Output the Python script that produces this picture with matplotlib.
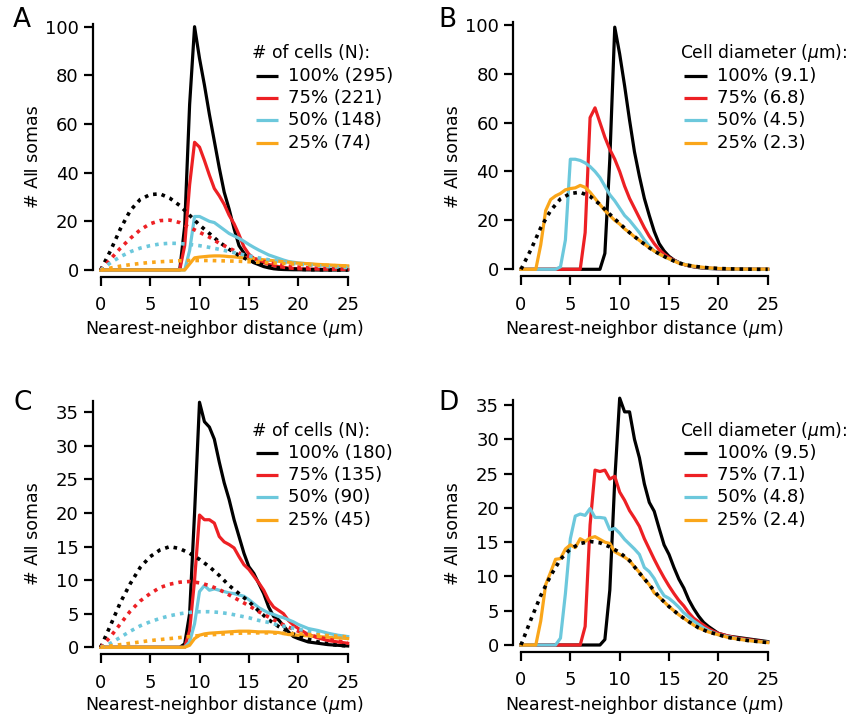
import matplotlib
matplotlib.use("Agg")
import matplotlib.pyplot as plt
from matplotlib.lines import Line2D

W, H = 851, 716

# sample positions (um) for the measured curves
x_meas = [0, 0.5, 1, 1.5, 2, 2.5, 3, 3.5, 4, 4.5, 5, 5.5, 6, 6.5, 7, 7.5, 8, 8.5, 9, 9.5,
          10, 10.5, 11, 11.5, 12, 12.5, 13, 13.5, 14, 14.5, 15, 15.5, 16, 16.5, 17, 17.5,
          18, 18.5, 19, 19.5, 20, 21, 22, 23, 24, 25]
# sample positions (um) for the random-placement expectation
x_rand = [0, 1, 2, 3, 4, 5, 6, 7, 8, 9, 10, 11, 12, 13, 14, 15, 16, 17, 18, 19, 20, 21, 22, 23, 24, 25]

pct_labels = ["100%", "75%", "50%", "25%"]
colors = ["black", "#ED2024", "#6CC8DC", "#FAA61A"]

# ---- panel A: # of cells
a_counts = [295, 221, 148, 74]
a_meas = [
    [0] * 16 + [0, 18, 68, 100, 87, 76, 64, 53, 42, 32, 25, 17, 10, 7, 4.5, 3, 2.2, 1.4, 0.9,
                0.5, 0.3, 0.2, 0.15, 0.1, 0.1] + [0.05, 0, 0, 0, 0],
    [0] * 16 + [0, 10, 35, 52.5, 50.5, 45, 39, 33.5, 30.5, 27, 22.5, 19, 14.5, 9.5, 6.5, 4.8,
                3.8, 3.0, 2.3, 1.8, 1.4, 1.1, 0.8, 0.65, 0.5] + [0.4, 0.35, 0.3, 0.3, 0.3],
    [0] * 17 + [0, 8, 22, 22, 21, 20, 19.5, 18, 16.5, 15, 14, 13, 11.8, 10.5, 9.3, 8.2, 7.2,
                6.2, 5.5, 4.8, 4.1, 3.5, 3.2, 2.9] + [2.5, 2.1, 1.8, 1.5, 1.4],
    [0] * 17 + [0, 2.5, 5, 5.3, 5.5, 5.7, 5.8, 5.8, 5.7, 5.5, 5.4, 5.2, 5.0, 4.8, 4.6, 4.4,
                4.2, 4.0, 3.8, 3.6, 3.4, 3.2, 3.0, 2.8] + [2.6, 2.3, 2.1, 1.9, 1.7],
]
a_rand = [
    [0, 8, 17, 24.5, 29, 31, 31.3, 29.5, 26.5, 22.5, 18.5, 15, 11.5, 8.5, 6, 4, 2.5, 1.5, 0.9,
     0.5, 0.3, 0.15, 0.1, 0.05, 0, 0],
    [0, 4.5, 9, 13, 16.5, 19, 20.3, 20.5, 19.5, 17.5, 15.5, 13.5, 11, 9, 7, 5.5, 4, 3, 2.2,
     1.6, 1.2, 0.9, 0.7, 0.5, 0.4, 0.3],
    [0, 3, 5.5, 7.5, 9, 10, 10.7, 11, 10.9, 10.5, 10, 9.3, 8.5, 7.6, 6.7, 5.8, 5, 4.2, 3.5,
     2.9, 2.4, 2, 1.7, 1.4, 1.2, 1],
    [0, 0.8, 1.6, 2.2, 2.7, 3.1, 3.4, 3.6, 3.8, 3.9, 3.9, 3.9, 3.8, 3.7, 3.6, 3.4, 3.2, 3.0,
     2.8, 2.6, 2.4, 2.2, 2.0, 1.9, 1.7, 1.6],
]

# ---- panel B: cell diameter
b_diam = [9.1, 6.8, 4.5, 2.3]
b_meas = [
    [0] * 17 + [6.5, 45, 99, 88, 75, 61, 48, 38, 29, 22, 15.5, 10.5, 7.5, 5.3, 3.8, 2.8, 2.0,
                1.4, 1.0, 0.7, 0.5, 0.35, 0.25, 0.2] + [0.1, 0.05, 0, 0, 0],
    [0] * 13 + [15, 62, 66, 60, 54, 49, 45, 40, 34, 29, 25, 21, 17, 13.5, 10.5, 8, 6.2, 4.8,
                3.7, 2.7, 2.0, 1.5, 1.1, 0.8, 0.6, 0.45, 0.35, 0.25] + [0.15, 0.1, 0.05, 0, 0],
    [0] * 8 + [1, 12, 45, 45, 44.5, 43.5, 42, 40, 37.5, 34, 30.5, 28, 25, 22, 20, 17.5, 15, 12,
               9.5, 7.5, 6.3, 5.2, 4.3, 3.5, 2.7, 2.1, 1.6, 1.2, 0.9, 0.65, 0.45, 0.35, 0.25]
    + [0.15, 0.1, 0.05, 0, 0],
    [0] * 4 + [10, 24, 28.5, 30, 31, 32.5, 33, 33.3, 34.3, 33.5, 31.5, 29, 26.5, 24, 22, 20,
               18.5, 16.5, 15, 13.3, 11.8, 10.3, 8.8, 7.5, 6.3, 5.2, 4.3, 3.4, 2.5, 2.0, 1.6,
               1.3, 1.0, 0.8, 0.6, 0.45, 0.35] + [0.2, 0.1, 0.05, 0.05, 0.05],
]
b_rand = [0, 8, 17, 24, 28.8, 31, 31.5, 29.8, 26.5, 22.5, 18.7, 15, 11.8, 8.8, 6.3, 4.3, 2.5,
          1.6, 1.0, 0.6, 0.35, 0.2, 0.1, 0.05, 0, 0]

# ---- panel C: # of cells
c_counts = [180, 135, 90, 45]
c_meas = [
    [0] * 17 + [0.5, 5, 20, 36.5, 33.6, 32.8, 31, 27.6, 24.5, 22, 19, 16.5, 14, 12, 11, 9.5, 8,
                6, 4.6, 4.1, 3.2, 2.3, 1.6, 1.3] + [0.8, 0.6, 0.4, 0.3, 0.2],
    [0] * 18 + [2.5, 10, 19.7, 19, 19, 18.5, 16.5, 15.7, 15.3, 14.8, 13.5, 12.3, 11.6, 10.6, 9.6,
                8.5, 7, 6, 5.5, 5, 4, 3.3, 2.8] + [1.9, 1.4, 1.0, 0.8, 0.6],
    [0] * 18 + [0.8, 3.5, 8.3, 9.2, 8.5, 8.7, 8.5, 8.3, 8.1, 8, 7.8, 7.6, 7.1, 6.5, 5.9, 5.5,
                5.1, 4.9, 4.6, 4.4, 4.1, 3.8, 3.4] + [2.8, 2.5, 2.1, 1.8, 1.6],
    [0] * 18 + [0.3, 1.3, 1.8, 2.0, 2.1, 2.15, 2.2, 2.25, 2.3, 2.35, 2.4, 2.4, 2.4, 2.35, 2.3,
                2.3, 2.3, 2.25, 2.2, 2.05, 1.9, 1.85, 1.8] + [1.7, 1.6, 1.5, 1.4, 1.3],
]
c_rand = [
    [0, 3.3, 6.7, 9.5, 11.9, 13.5, 14.5, 15, 14.7, 14, 13.1, 12, 10.7, 9.2, 8, 6.8, 5.4, 4.1,
     3.1, 2.3, 1.7, 1.2, 0.8, 0.5, 0.3, 0.2],
    [0, 1.6, 3.5, 5.4, 6.9, 8, 8.9, 9.4, 9.7, 9.8, 9.6, 9.2, 8.6, 7.8, 7, 6.2, 5.3, 4.5, 3.7,
     3, 2.4, 1.9, 1.5, 1.2, 0.9, 0.7],
    [0, 0.6, 1.5, 2.4, 3.2, 3.8, 4.3, 4.7, 5, 5.2, 5.3, 5.3, 5.2, 5, 4.7, 4.4, 4, 3.7, 3.3, 3,
     2.7, 2.4, 2.1, 1.9, 1.7, 1.5],
    [0, 0.2, 0.4, 0.6, 0.8, 1, 1.15, 1.3, 1.45, 1.6, 1.75, 1.85, 1.95, 2.05, 2.1, 2.15, 2.15,
     2.15, 2.1, 2.05, 2, 1.9, 1.85, 1.75, 1.65, 1.55],
]

# ---- panel D: cell diameter
d_diam = [9.5, 7.1, 4.8, 2.4]
d_meas = [
    [0] * 17 + [0.8, 8, 24, 36, 34, 34, 30, 27.3, 23.5, 20.8, 19.5, 17, 14.6, 13.2, 11.3, 9.6,
                8.3, 6.6, 5.3, 4.2, 3.3, 2.7, 2.2, 1.7] + [1.3, 1.1, 0.9, 0.7, 0.5],
    [0] * 13 + [2.7, 17.5, 25.5, 25.3, 25.5, 24.2, 24.6, 22.3, 21.1, 19.6, 18.5, 17.3, 15.5, 14,
                12.5, 11.1, 9.8, 8.6, 7.5, 6.5, 5.7, 4.7, 3.9, 3.4, 2.9, 2.4, 2, 1.7]
    + [1.3, 1.0, 0.8, 0.6, 0.4],
    [0] * 8 + [1, 7.5, 15.5, 18.8, 19.1, 18.9, 19.9, 18.6, 18.6, 18.5, 16.8, 17, 16.3, 15.4,
               14.7, 14, 13.2, 11.3, 10.7, 9.7, 8.3, 7.2, 6.8, 6.2, 5.5, 4.7, 4.1, 3.5, 3, 2.5,
               2.1, 1.8, 1.5] + [1.2, 0.9, 0.7, 0.5, 0.4],
    [0] * 4 + [3.5, 8.8, 10.6, 12.5, 12.6, 14, 14.6, 14.2, 15.5, 15.1, 15.6, 15.8, 15.4, 15,
               14.8, 13.6, 13.2, 12.8, 12.3, 11.4, 10.6, 9.6, 8.8, 7.6, 7, 6.3, 5.6, 5, 4.4,
               3.9, 3.4, 2.9, 2.5, 2.2, 1.9, 1.7, 1.5] + [1.1, 0.85, 0.65, 0.5, 0.35],
]
d_rand = [0, 3.7, 7.2, 10.1, 12.5, 14, 14.8, 15.1, 14.9, 14.3, 13.5, 12.3, 10.5, 8.8, 7, 5.6,
          4.4, 3.4, 2.5, 1.9, 1.5, 1.1, 0.85, 0.65, 0.5, 0.35]

plt.rcParams["font.family"] = ["DejaVu Sans"]

LW = 2.3
FS = 13      # ticks and keys
FS_LAB = 12.5
FS_KEYTITLE = 12.3


def fx(px):
    return px / W


def fy(py):
    return 1 - py / H


def style_axes(ax, ymax, yticks):
    ax.set_xlim(0, 25)
    ax.set_ylim(0, ymax)
    ax.set_xticks([0, 5, 10, 15, 20, 25])
    ax.set_yticks(yticks)
    for s in ["top", "right"]:
        ax.spines[s].set_visible(False)
    ax.spines["left"].set_position(("outward", 5.8))
    ax.spines["bottom"].set_position(("outward", 5.0))
    for s in ["left", "bottom"]:
        ax.spines[s].set_linewidth(1.6)
    ax.tick_params(axis="both", direction="out", width=1.6, length=6.5, labelsize=FS)
    ax.tick_params(axis="y", pad=3.5)
    ax.tick_params(axis="x", pad=7.5)
    ax.patch.set_visible(False)


def draw_panel(ax, meas, rand_list, rand_colors):
    for ys, c in zip(meas, colors):
        ax.plot(x_meas, ys, color=c, lw=LW, clip_on=False, solid_joinstyle="round")
    for ys, c in zip(rand_list, rand_colors):
        ax.plot(x_rand, ys, color=c, lw=2.6, linestyle=(0, (1.0, 1.4)),
                dash_capstyle="butt", clip_on=False)


def add_key(fig, title, labels, x_title, y_title, x_h0, x_h1, x_text, y_rows):
    fig.text(fx(x_title), fy(y_title), title, ha="left", va="center", fontsize=FS_KEYTITLE)
    for lab, c, yr in zip(labels, colors, y_rows):
        fig.add_artist(Line2D([fx(x_h0), fx(x_h1)], [fy(yr), fy(yr)],
                              transform=fig.transFigure, color=c, lw=LW,
                              solid_capstyle="butt"))
        fig.text(fx(x_text), fy(yr), lab, ha="left", va="center", fontsize=FS)


fig = plt.figure(figsize=(W / 100, H / 100), dpi=100)

xlab = r"Nearest-neighbor distance ($\mu$m)"
ylab = "# A\u2161 somas"

# panel geometry in pixels: left, x=25 px, y0 px, px per unit, ymax
panels = {
    "A": (100.7, 347.7, 270.0, 2.433, 101),
    "B": (521.0, 767.7, 269.3, 2.446, 101),
    "C": (100.7, 347.7, 647.3, 6.714, 36.7),
    "D": (521.0, 767.7, 645.0, 6.857, 35.8),
}
axes = {}
for key, (l, r, y0, ppu, ymax) in panels.items():
    hgt = ymax * ppu
    axes[key] = fig.add_axes([fx(l), fy(y0), (r - l) / W, hgt / H])

rows_top = [75.7, 98.0, 120.3, 142.7]
rows_bot = [452.7, 475.0, 497.3, 519.7]

# A
ax = axes["A"]
style_axes(ax, 101, [0, 20, 40, 60, 80, 100])
draw_panel(ax, a_meas, a_rand, colors)
add_key(fig, "# of cells (N):", [f"{p} ({n})" for p, n in zip(pct_labels, a_counts)],
        252, 53.3, 256, 278, 288, rows_top)

# B
ax = axes["B"]
style_axes(ax, 101, [0, 20, 40, 60, 80, 100])
draw_panel(ax, b_meas, [b_rand], ["black"])
add_key(fig, r"Cell diameter ($\mu$m):", [f"{p} ({d})" for p, d in zip(pct_labels, b_diam)],
        680.5, 53.3, 684.3, 706.7, 717.3, rows_top)

# C
ax = axes["C"]
style_axes(ax, 36.7, [0, 5, 10, 15, 20, 25, 30, 35])
draw_panel(ax, c_meas, c_rand, colors)
add_key(fig, "# of cells (N):", [f"{p} ({n})" for p, n in zip(pct_labels, c_counts)],
        252, 430.7, 256, 278, 288, rows_bot)

# D
ax = axes["D"]
style_axes(ax, 35.8, [0, 5, 10, 15, 20, 25, 30, 35])
draw_panel(ax, d_meas, [d_rand], ["black"])
add_key(fig, r"Cell diameter ($\mu$m):", [f"{p} ({d})" for p, d in zip(pct_labels, d_diam)],
        680.5, 430.7, 684.3, 706.7, 717.3, rows_bot)

# axis labels
label_pos = {
    "A": (33, 156.7, 224.2, 329),
    "B": (453, 156.7, 644.3, 329),
    "C": (33, 534, 224.2, 705.5),
    "D": (453, 534, 644.3, 705.5),
}
for key, (ylx, yly, xlx, xly) in label_pos.items():
    ax = axes[key]
    ax.set_ylabel(ylab, fontsize=FS_LAB)
    ax.yaxis.set_label_coords(fx(ylx), fy(yly), transform=fig.transFigure)
    ax.set_xlabel(xlab, fontsize=FS_LAB)
    ax.xaxis.set_label_coords(fx(xlx), fy(xly), transform=fig.transFigure)
    ax.xaxis.label.set_va("center")
    ax.yaxis.label.set_va("center")

# panel letters
for letter, (lx, ly) in {"A": (12.7, 20), "B": (438.3, 20), "C": (13.3, 403), "D": (438, 403)}.items():
    fig.text(fx(lx), fy(ly), letter, fontsize=19, ha="left", va="center")

fig.savefig("out.png", dpi=100)
